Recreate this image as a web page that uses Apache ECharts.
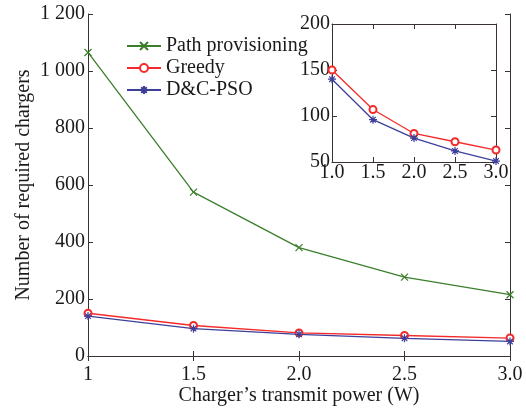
<!DOCTYPE html>
<html><head><meta charset="utf-8">
<script src="https://cdn.jsdelivr.net/npm/echarts@6/dist/echarts.min.js"></script>
<style>html,body{margin:0;padding:0;background:#fff}#c{width:526px;height:409px}</style>
</head><body><div id="c"></div>
<script>
const powers = [1.0, 1.5, 2.0, 2.5, 3.0];
const pathProvisioning = [1065, 575, 380, 277, 215];
const greedy = [150, 107, 81, 72, 63];
const dcpso = [140, 96, 76, 62, 51];
const mainXLabels = {1: '1', 1.5: '1.5', 2: '2.0', 2.5: '2.5', 3: '3.0'};

const font = 'Liberation Serif';
const axisCol = '#3a3232';
const green = '#3b7f2c', red = '#f52a2a', blue = '#3d3f9a';
const xSym = 'path://M0,0L10,10M10,0L0,10';
const starSym = 'path://M5,0L5,10M0,5L10,5M1.5,1.5L8.5,8.5M8.5,1.5L1.5,8.5';

function pairs(xs, ys){ return xs.map((x,i)=>[x, ys[i]]); }

const lbl = (extra)=>Object.assign({color:'#1a1a1a', fontFamily:font, fontSize:20}, extra||{});
const axBase = {
  axisLine:{show:true, lineStyle:{color:axisCol, width:1}},
  axisTick:{show:true, inside:true, length:5, lineStyle:{color:axisCol}},
  splitLine:{show:false}
};

const chart = echarts.init(document.getElementById('c'));
chart.setOption({
  animation:false,
  textStyle:{fontFamily:font},
  legend:{
    left:121, top:31, orient:'vertical', itemWidth:34, itemHeight:10, itemGap:2,
    textStyle:{fontFamily:font, fontSize:20, color:'#1a1a1a'},
    data:['Path provisioning','Greedy','D&C-PSO']
  },
  grid:[
    {left:88, top:14, right:16, bottom:53, outerBoundsMode:'none', containLabel:false},
    {left:332, top:24, right:30, bottom:247, outerBoundsMode:'none', containLabel:false}
  ],
  xAxis:[
    Object.assign({}, axBase, {gridIndex:0, type:'value', min:1, max:3, interval:0.5,
      name:'Charger\u2019s transmit power (W)', nameLocation:'middle', nameGap:30, nameMoveOverlap:false,
      nameTextStyle:{fontFamily:font, fontSize:20, color:'#1a1a1a'},
      axisLabel:lbl({margin:9, formatter:v=>mainXLabels[v]})}),
    Object.assign({}, axBase, {gridIndex:0, type:'value', min:1, max:3, interval:0.5, position:'top',
      axisLabel:{show:false}}),
    Object.assign({}, axBase, {gridIndex:1, type:'value', min:1, max:3, interval:0.5,
      axisLabel:lbl({margin:1, formatter:v=>v.toFixed(1)})}),
    Object.assign({}, axBase, {gridIndex:1, type:'value', min:1, max:3, interval:0.5, position:'top',
      axisLabel:{show:false}})
  ],
  yAxis:[
    Object.assign({}, axBase, {gridIndex:0, type:'value', min:0, max:1200, interval:200,
      name:'Number of required chargers', nameLocation:'middle', nameGap:54, nameMoveOverlap:false,
      nameTextStyle:{fontFamily:font, fontSize:20, color:'#1a1a1a'},
      axisLabel:lbl({margin:3,
        formatter:v=> v>=1000 ? Math.floor(v/1000)+' '+String(v%1000).padStart(3,'0') : String(v)})}),
    Object.assign({}, axBase, {gridIndex:0, type:'value', min:0, max:1200, interval:200, position:'right',
      axisLabel:{show:false}}),
    Object.assign({}, axBase, {gridIndex:1, type:'value', min:50, max:200, interval:50,
      axisLabel:lbl({margin:2})}),
    Object.assign({}, axBase, {gridIndex:1, type:'value', min:50, max:200, interval:50, position:'right',
      axisLabel:{show:false}})
  ],
  series:[
    {name:'Path provisioning', type:'line', xAxisIndex:0, yAxisIndex:0, data:pairs(powers, pathProvisioning),
      symbol:xSym, symbolSize:7, showAllSymbol:true,
      lineStyle:{color:green, width:1.3}, itemStyle:{color:'none', borderColor:green, borderWidth:1.2}},
    {name:'Greedy', type:'line', xAxisIndex:0, yAxisIndex:0, data:pairs(powers, greedy),
      symbol:'emptyCircle', symbolSize:7,
      lineStyle:{color:red, width:1.3}, itemStyle:{color:red, borderColor:red, borderWidth:1.2}},
    {name:'D&C-PSO', type:'line', xAxisIndex:0, yAxisIndex:0, data:pairs(powers, dcpso),
      symbol:starSym, symbolSize:8,
      lineStyle:{color:blue, width:1.3}, itemStyle:{color:'none', borderColor:blue, borderWidth:1.2}},
    {name:'Greedy', type:'line', xAxisIndex:2, yAxisIndex:2, data:pairs(powers, greedy),
      symbol:'emptyCircle', symbolSize:7,
      lineStyle:{color:red, width:1.3}, itemStyle:{color:red, borderColor:red, borderWidth:1.2}},
    {name:'D&C-PSO', type:'line', xAxisIndex:2, yAxisIndex:2, data:pairs(powers, dcpso),
      symbol:starSym, symbolSize:8,
      lineStyle:{color:blue, width:1.3}, itemStyle:{color:'none', borderColor:blue, borderWidth:1.2}}
  ]
});
</script></body></html>
